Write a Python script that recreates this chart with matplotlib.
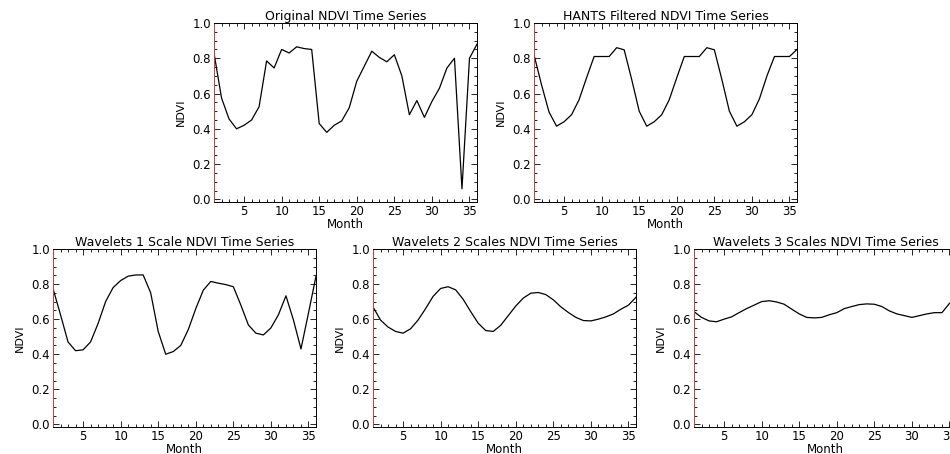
import numpy as np
import matplotlib
matplotlib.use("Agg")
import matplotlib.pyplot as plt
from matplotlib.ticker import MultipleLocator, FormatStrFormatter

months = np.arange(1, 37)

original = [0.83, 0.575, 0.456, 0.40, 0.42, 0.45, 0.525, 0.785, 0.745, 0.85,
            0.83, 0.865, 0.855, 0.85, 0.43, 0.38, 0.42, 0.445, 0.52, 0.67,
            0.755, 0.84, 0.805, 0.78, 0.82, 0.70, 0.48, 0.56, 0.465, 0.555,
            0.63, 0.745, 0.80, 0.06, 0.80, 0.88]

hants = [0.82, 0.65, 0.495, 0.415, 0.44, 0.48, 0.565, 0.69, 0.81, 0.81,
         0.81, 0.86, 0.848, 0.68, 0.50, 0.415, 0.44, 0.48, 0.565, 0.69,
         0.81, 0.81, 0.81, 0.86, 0.848, 0.68, 0.50, 0.415, 0.44, 0.48,
         0.57, 0.70, 0.81, 0.81, 0.81, 0.85]

wavelet1 = [0.775, 0.625, 0.47, 0.42, 0.425, 0.47, 0.575, 0.70, 0.78, 0.82,
            0.845, 0.852, 0.852, 0.75, 0.53, 0.40, 0.415, 0.45, 0.54, 0.66,
            0.765, 0.815, 0.805, 0.797, 0.785, 0.68, 0.567, 0.52, 0.51, 0.55,
            0.625, 0.733, 0.595, 0.43, 0.635, 0.845]

wavelet2 = [0.67, 0.595, 0.555, 0.53, 0.52, 0.545, 0.595, 0.66, 0.73, 0.775,
            0.785, 0.767, 0.713, 0.643, 0.577, 0.535, 0.53, 0.565, 0.62, 0.675,
            0.72, 0.748, 0.752, 0.74, 0.71, 0.67, 0.638, 0.61, 0.592, 0.59,
            0.60, 0.613, 0.63, 0.657, 0.68, 0.725]

wavelet3 = [0.643, 0.61, 0.59, 0.585, 0.60, 0.613, 0.637, 0.66, 0.68, 0.70,
            0.705, 0.698, 0.685, 0.657, 0.63, 0.61, 0.607, 0.61, 0.625, 0.637,
            0.66, 0.672, 0.683, 0.687, 0.685, 0.672, 0.647, 0.63, 0.62, 0.61,
            0.62, 0.63, 0.637, 0.637, 0.69, 0.72]

titles = ["Original NDVI Time Series", "HANTS Filtered NDVI Time Series",
          "Wavelets 1 Scale NDVI Time Series", "Wavelets 2 Scales NDVI Time Series",
          "Wavelets 3 Scales NDVI Time Series"]
series = [original, hants, wavelet1, wavelet2, wavelet3]

W, H = 950, 454
# axes boxes in pixels: left, top, right, bottom
boxes = [(214, 23, 477, 202), (534, 23, 797, 202),
         (53, 249, 316, 427), (373, 249, 636, 427), (694, 249, 957, 427)]

plt.rcParams["font.family"] = "DejaVu Sans"
fig = plt.figure(figsize=(W / 100, H / 100), dpi=100)

for (l, t, r, b), title, vals in zip(boxes, titles, series):
    ax = fig.add_axes([l / W, 1 - b / H, (r - l) / W, (b - t) / H])
    ax.plot(months, vals, color="black", lw=0.9)
    ax.set_xlim(1, 36)
    ax.set_ylim(-0.015, 1.0)
    ax.xaxis.set_major_locator(MultipleLocator(5))
    ax.xaxis.set_minor_locator(MultipleLocator(1))
    ax.yaxis.set_major_locator(MultipleLocator(0.2))
    ax.yaxis.set_minor_locator(MultipleLocator(0.05))
    ax.yaxis.set_major_formatter(FormatStrFormatter("%.1f"))
    ax.tick_params(which="both", direction="in", top=True, right=True,
                   labelsize=8.5, width=0.6, pad=2)
    ax.tick_params(which="major", length=4.5)
    ax.tick_params(which="minor", length=2.2)
    for s in ax.spines.values():
        s.set_linewidth(0.7)
    ax.spines["left"].set_color("#d03a3a")
    ax.set_title(title, fontsize=9, pad=2)
    ax.set_xlabel("Month", fontsize=8.5, labelpad=0)
    ax.set_ylabel("NDVI", fontsize=8, labelpad=5)

fig.savefig("out.png", dpi=100)
